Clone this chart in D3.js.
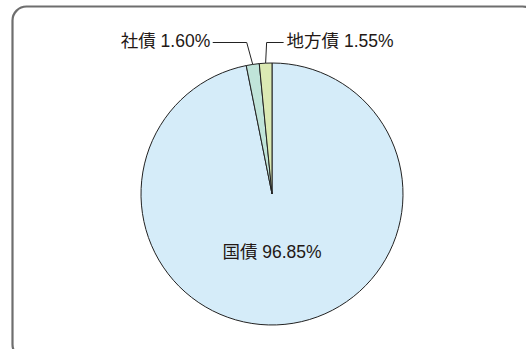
<!DOCTYPE html>
<html>
<head>
<meta charset="utf-8">
<script src="https://cdn.jsdelivr.net/npm/d3@7"></script>
<style>
  html, body { margin: 0; padding: 0; background: #fff; }
  svg { display: block; }
</style>
</head>
<body>
<svg id="chart" width="526" height="349"></svg>
<script>
// Bond holdings breakdown
const categories = ["国債", "社債", "地方債"];
const shares = [96.85, 1.60, 1.55];
const colors = ["#d5ecf9", "#c0e4d9", "#dbe9b3"];

const svg = d3.select("#chart");
const font = "'Liberation Sans', Arial, 'Noto Sans CJK JP', sans-serif";
const fontSize = 17.5;

// Frame with rounded corners (runs past the right and bottom edges)
svg.append("rect")
  .attr("x", 12.5).attr("y", 6.5)
  .attr("width", 524).attr("height", 352)
  .attr("rx", 14).attr("ry", 14)
  .attr("fill", "#fff")
  .attr("stroke", "#6e6e6e")
  .attr("stroke-width", 2.2);

const cx = 272, cy = 194, r = 131;

const data = categories.map((c, i) => ({ name: c, value: shares[i], color: colors[i] }));

const pie = d3.pie().sort(null).value(d => d.value);
const arcs = pie(data);
const arc = d3.arc().innerRadius(0).outerRadius(r);

const g = svg.append("g").attr("transform", `translate(${cx},${cy})`);

g.selectAll("path.slice")
  .data(arcs)
  .join("path")
  .attr("class", "slice")
  .attr("d", arc)
  .attr("fill", d => d.data.color)
  .attr("stroke", "#222")
  .attr("stroke-width", 1)
  .attr("stroke-linejoin", "round");

const fmt = v => v.toFixed(2) + "%";

// Large slice: label inside
const big = arcs[0];
g.append("text")
  .attr("x", 0)
  .attr("y", 63.5)
  .attr("text-anchor", "middle")
  .attr("font-family", font)
  .attr("font-size", fontSize)
  .attr("fill", "#231815")
  .text(big.data.name + " " + fmt(big.data.value));

// Small slices: elbow leader lines to labels above the pie
const elbowY = -r - 20.5;
arcs.slice(1).forEach(d => {
  const mid = (d.startAngle + d.endAngle) / 2;
  const px = r * Math.sin(mid), py = -r * Math.cos(mid);
  const leftSide = d.data.name === "社債";
  const ex = px + (leftSide ? -6 : 1);
  const hx = leftSide ? ex - 34 : ex + 17;
  g.append("polyline")
    .attr("points", [[px, py], [ex, elbowY], [hx, elbowY]].map(p => p.join(",")).join(" "))
    .attr("fill", "none")
    .attr("stroke", "#222")
    .attr("stroke-width", 1);
  g.append("text")
    .attr("x", leftSide ? hx - 2.5 : hx + 3)
    .attr("y", elbowY + 4.5)
    .attr("text-anchor", leftSide ? "end" : "start")
    .attr("font-family", font)
    .attr("font-size", fontSize)
    .attr("fill", "#231815")
    .text(d.data.name + " " + fmt(d.data.value));
});
</script>
</body>
</html>
